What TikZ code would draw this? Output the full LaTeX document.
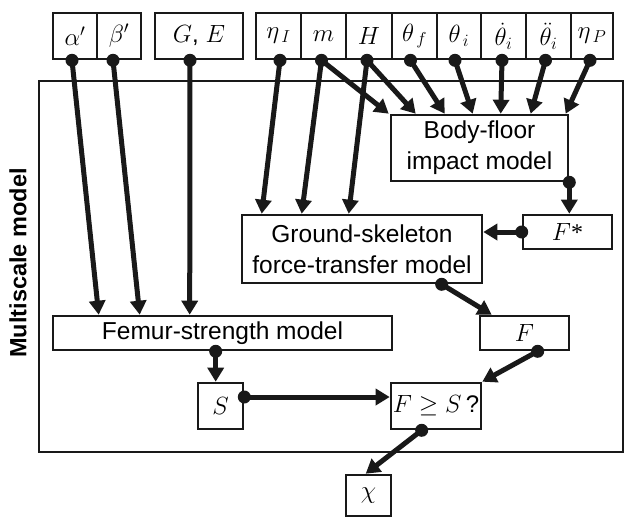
\documentclass[tikz,border=0pt]{standalone}
\usepackage{fontspec}
\setmainfont{Liberation Sans}
\newfontfamily\serifast{Liberation Serif}
\usetikzlibrary{arrows.meta,calc}
\begin{document}
\begin{tikzpicture}[x=1pt,y=-1pt,
  box/.style={draw=black!90, line width=2.6pt, inner sep=0pt, fill=white},
  mbox/.style={box, font=\fontsize{24}{28}\selectfont},
  tbox/.style={box, font=\fontsize{24.5}{31}\selectfont, align=center},
  arr/.style={line width=5pt, draw=black!90, -{Triangle[length=14pt,width=16pt]}},
  dotc/.style={fill=black!90}]
\useasboundingbox (0,0) rectangle (625,520);
% outer frame
\draw[line width=2.6pt, draw=black!90] (39,81) rectangle (623,452);
\node[rotate=90, font=\fontsize{23.5}{28}\selectfont\bfseries] (lbl) at (18,263) {Multiscale model};
% top parameter boxes
\node[mbox, minimum width=44pt, minimum height=46pt] (al) at (75,36) {$\alpha'$};
\node[mbox, minimum width=44pt, minimum height=46pt] (be) at (119,36) {$\beta'$};
\node[mbox, minimum width=88pt, minimum height=46pt] (ge) at (199,36) {$G$, $E$};
\node[mbox, minimum width=45pt, minimum height=46pt] (etai) at (278.5,36) {$\eta_{\,I}$};
\node[mbox, minimum width=45pt, minimum height=46pt] (m) at (323.5,36) {$m$};
\node[mbox, minimum width=46pt, minimum height=46pt] (H) at (369,36) {$H$};
\node[mbox, minimum width=45pt, minimum height=46pt] (thf) at (414.5,36) {$\theta_{\,f}$};
\node[mbox, minimum width=44pt, minimum height=46pt] (thi) at (459,36) {$\theta_{\,i}$};
\node[mbox, minimum width=45pt, minimum height=46pt] (thd) at (503.5,36) {$\dot{\theta}_{i}$};
\node[mbox, minimum width=45pt, minimum height=46pt] (thdd) at (548.5,36) {$\ddot{\theta}_{i}$};
\node[mbox, minimum width=42pt, minimum height=46pt] (etap) at (592,36) {$\eta_{\,P}$};
% model boxes
\node[tbox, minimum width=177pt, minimum height=66pt] (bf) at (479.5,148) {Body-floor\\impact model};
\node[tbox, minimum width=240pt, minimum height=68pt] (gs) at (362,249) {Ground-skeleton\\force-transfer model};
\node[mbox, minimum width=89pt, minimum height=34pt] (fstar) at (567.5,232) {$F${\serifast*}};
\node[tbox, minimum width=339pt, minimum height=34pt] (fem) at (222.5,333) {Femur-strength model};
\node[mbox, minimum width=89pt, minimum height=34pt] (F) at (524.5,333) {$F$};
\node[mbox, minimum width=45pt, minimum height=46pt] (S) at (220.5,406) {$S$};
\node[mbox, minimum width=90pt, minimum height=46pt] (fges) at (436,406) {$F\geq S\,$?};
\node[mbox, minimum width=45pt, minimum height=41pt] (chi) at (368.5,495.5) {$\chi$};
% named start points
\coordinate (sal) at ([xshift=-3pt]al.south);
\coordinate (sbe) at ([xshift=-6pt]be.south);
\coordinate (sge) at ([xshift=-9pt]ge.south);
\coordinate (setai) at ([xshift=1.5pt]etai.south);
\coordinate (sm) at ([xshift=-2pt]m.south);
\coordinate (sH) at ([xshift=-2pt]H.south);
\coordinate (sthf) at ([xshift=-4pt]thf.south);
\coordinate (sthi) at ([xshift=-4pt]thi.south);
\coordinate (sthd) at ([xshift=-1.5pt]thd.south);
\coordinate (sthdd) at ([xshift=-3pt]thdd.south);
\coordinate (setap) at ([xshift=-2pt]etap.south);
\coordinate (sbf) at (bf.south east);
\coordinate (sfstar) at (fstar.west);
\coordinate (sgs) at ([xshift=201pt]gs.south west);
\coordinate (sF) at ([xshift=59pt]F.south west);
\coordinate (sfem) at ([xshift=164pt]fem.south west);
\coordinate (sS) at ([yshift=9pt]S.east);
\coordinate (sfges) at ([xshift=32pt]fges.south west);
% arrows into femur-strength model
\draw[arr] (sal) -- ([xshift=47pt]fem.north west);
\draw[arr] (sbe) -- ([xshift=88pt]fem.north west);
\draw[arr] (sge) -- ([xshift=138pt]fem.north west);
% arrows into ground-skeleton model
\draw[arr] (setai) -- ([xshift=21pt]gs.north west);
\draw[arr] (sm) -- ([xshift=61pt]gs.north west);
\draw[arr] (sH) -- ([xshift=108pt]gs.north west);
% arrows into body-floor model
\draw[arr] (sm) -- ([xshift=-1pt]bf.north west);
\draw[arr] (sH) -- ([xshift=26pt]bf.north west);
\draw[arr] (sthf) -- ([xshift=55pt]bf.north west);
\draw[arr] (sthi) -- ([xshift=83pt]bf.north west);
\draw[arr] (sthd) -- ([xshift=111pt]bf.north west);
\draw[arr] (sthdd) -- ([xshift=141pt]bf.north west);
\draw[arr] (setap) -- ([xshift=176pt]bf.north west);
% model chain
\draw[arr] (sbf) -- (sbf |- fstar.north);
\draw[arr] (sfstar) -- (gs.east |- sfstar);
\draw[arr] (sgs) -- ([xshift=13pt]F.north west);
\draw[arr] (sF) -- (fges.north east);
\draw[arr] (sfem) -- (sfem |- S.north);
\draw[arr] (sS) -- (fges.west |- sS);
\draw[arr] (sfges) -- ([xshift=21pt]chi.north west);
% dots
\foreach \p in {sal,sbe,sge,setai,sm,sH,sthf,sthi,sthd,sthdd,setap,sbf,sfstar,sgs,sF,sfem,sS,sfges}
  \fill[dotc] (\p) circle (6.5pt);
\end{tikzpicture}
\end{document}
